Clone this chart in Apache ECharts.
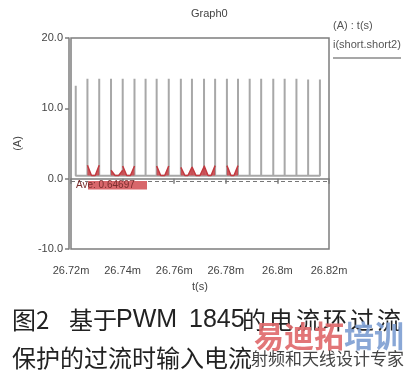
<!DOCTYPE html>
<html><head><meta charset="utf-8">
<script src="https://cdn.jsdelivr.net/npm/echarts@6/dist/echarts.min.js"></script>
<style>html,body{margin:0;padding:0;background:#fff}#c{width:411px;height:375px}</style>
</head><body><div id="c"></div>
<script>
// ---- data ----
const xTickLabels = ['26.72m','26.74m','26.76m','26.78m','26.8m','26.82m'];
const spikeTimes = [26.72184,26.72637,26.73094,26.73551,26.74004,26.74461,26.74891,26.75320,26.75789,26.76258,26.76688,
                    26.77156,26.77586,26.78043,26.78473,26.78926,26.79371,26.79840,26.80281,26.80738,26.81191,26.81648];
const spikePeaks = [13.2,14.2,14.2,14.2,14.2,14.2,14.2,14.2,14.2,14.2,14.2,
                    14.2,14.2,14.2,14.2,14.2,14.2,14.2,14.2,14.2,14.1,14.1];
const baseLevel = 0.4;
// red segments between spikes: [t, value], null = break
const redTrace = [
  [26.72637,1.9],[26.72793,0.45],[26.72938,0.45],[26.73094,1.9], null,
  [26.73551,1.2],[26.73707,0.45],[26.73848,0.45],[26.74004,1.2], null,
  [26.74004,1.8],[26.74160,0.45],[26.74305,0.45],[26.74461,1.8], null,
  [26.75320,1.8],[26.75476,0.45],[26.75633,0.45],[26.75789,1.8], null,
  [26.76258,1.6],[26.76414,0.45],[26.76532,0.45],[26.76688,1.6], null,
  [26.76688,1.7],[26.76844,0.45],[26.77000,0.45],[26.77156,1.7], null,
  [26.77156,1.85],[26.77312,0.45],[26.77430,0.45],[26.77586,1.85], null,
  [26.78043,1.85],[26.78199,0.45],[26.78317,0.45],[26.78473,1.85]
];
const aveValue = 0.64697;
const aveLineLevel = -0.35;
const captionLine1Parts = ['图2','基于','PWM','1845','的','电','流','环','过','流'];
const captionLine2 = '保护的过流时输入电流';

// build waveform
const grayTrace = [];
spikeTimes.forEach((t,i)=>{ grayTrace.push([t,baseLevel],[t,spikePeaks[i]],[t,baseLevel]); });

const F = 'Liberation Sans, Arial, sans-serif';
const CJK = 'Noto Sans CJK SC';
// caption line 1 is justified in the original: left edges of its pieces
const line1X = [12,69,116,189,242,269,296,323,350,377];
const line1Graphics = captionLine1Parts.map((s,i)=>({type:'text',x:line1X[i],y:320,
  style:{text:s,fontSize:(i===2||i===3)?25:24,fill:'#222',fontFamily:(i===2||i===3)?F:CJK,verticalAlign:'middle'}}));

const chart = echarts.init(document.getElementById('c'));
chart.setOption({
  animation:false,
  backgroundColor:'#fff',
  title:{text:'Graph0',left:186,top:3,textStyle:{fontSize:11,fontWeight:'normal',color:'#444',fontFamily:F}},
  grid:{left:71,right:82,top:38,bottom:126,show:true,borderColor:'#7d7d7d',borderWidth:1.5,backgroundColor:'transparent'},
  xAxis:{type:'value',min:26.72,max:26.82,interval:0.02,offset:4,
    name:'t(s)',nameLocation:'middle',nameGap:28,nameTextStyle:{fontSize:11,color:'#444',fontFamily:F},
    axisLine:{lineStyle:{color:'#7d7d7d',width:1.5}},axisTick:{length:5,lineStyle:{color:'#7d7d7d',width:1.5}},
    axisLabel:{margin:12,fontSize:11,color:'#444',fontFamily:F,formatter:(v,i)=>xTickLabels[i]},
    splitLine:{show:false}},
  yAxis:{type:'value',min:-10,max:20,interval:10,offset:2,
    name:'(A)',nameLocation:'middle',nameGap:46,nameRotate:90,nameTextStyle:{fontSize:11,color:'#444',fontFamily:F},
    axisLine:{show:true,lineStyle:{color:'#7d7d7d',width:1.5}},axisTick:{show:true,length:4,lineStyle:{color:'#7d7d7d',width:1.5}},
    axisLabel:{margin:6,fontSize:11,color:'#444',fontFamily:F,formatter:v=>v.toFixed(1)},
    splitLine:{show:false}},
  series:[
    {type:'line',data:grayTrace,showSymbol:false,symbol:'none',lineStyle:{color:'#a8a8a8',width:2},z:2,
      markLine:{silent:true,symbol:'none',label:{show:false},lineStyle:{color:'#777',type:[4,3],width:1},
        data:[{yAxis:aveLineLevel}]}},
    {type:'line',data:redTrace,connectNulls:false,showSymbol:false,symbol:'none',
      lineStyle:{color:'#c23a40',width:1.5},areaStyle:{color:'#c9464c',opacity:0.9,origin:0.45},z:3}
  ],
  graphic:[
    {type:'rect',shape:{x:88,y:181,width:59,height:8.5},style:{fill:'#d8676b'},z:10},
    {type:'text',x:76,y:185.5,style:{text:'Ave: '+aveValue,fontSize:10,fill:'#7a2e2e',fontFamily:F,verticalAlign:'middle'},z:11},
    {type:'text',x:333,y:26,style:{text:'(A) : t(s)',fontSize:11,fill:'#555',fontFamily:F,verticalAlign:'middle'}},
    {type:'text',x:333,y:45,style:{text:'i(short.short2)',fontSize:11,fill:'#555',fontFamily:F,verticalAlign:'middle'}},
    {type:'line',shape:{x1:333,y1:58,x2:401,y2:58},style:{stroke:'#8a8a8a',lineWidth:1.5}},
    ...line1Graphics,
    {type:'text',x:12,y:358,style:{text:captionLine2,fontSize:24,fill:'#222',fontFamily:CJK,verticalAlign:'middle'}},
    {type:'text',x:254,y:336,style:{text:'{r|易迪拓}{b|培训}',verticalAlign:'middle',
      rich:{r:{fontSize:30,fontWeight:'bold',fill:'#df6a6c',fontFamily:CJK},
            b:{fontSize:30,fontWeight:'bold',fill:'#7f9fd2',fontFamily:CJK}},opacity:0.92},z:20},
    {type:'text',x:251,y:359,style:{text:'射频和天线设计专家',fontSize:17,fill:'#444',fontFamily:CJK,verticalAlign:'middle'},z:20}
  ]
});
</script></body></html>
